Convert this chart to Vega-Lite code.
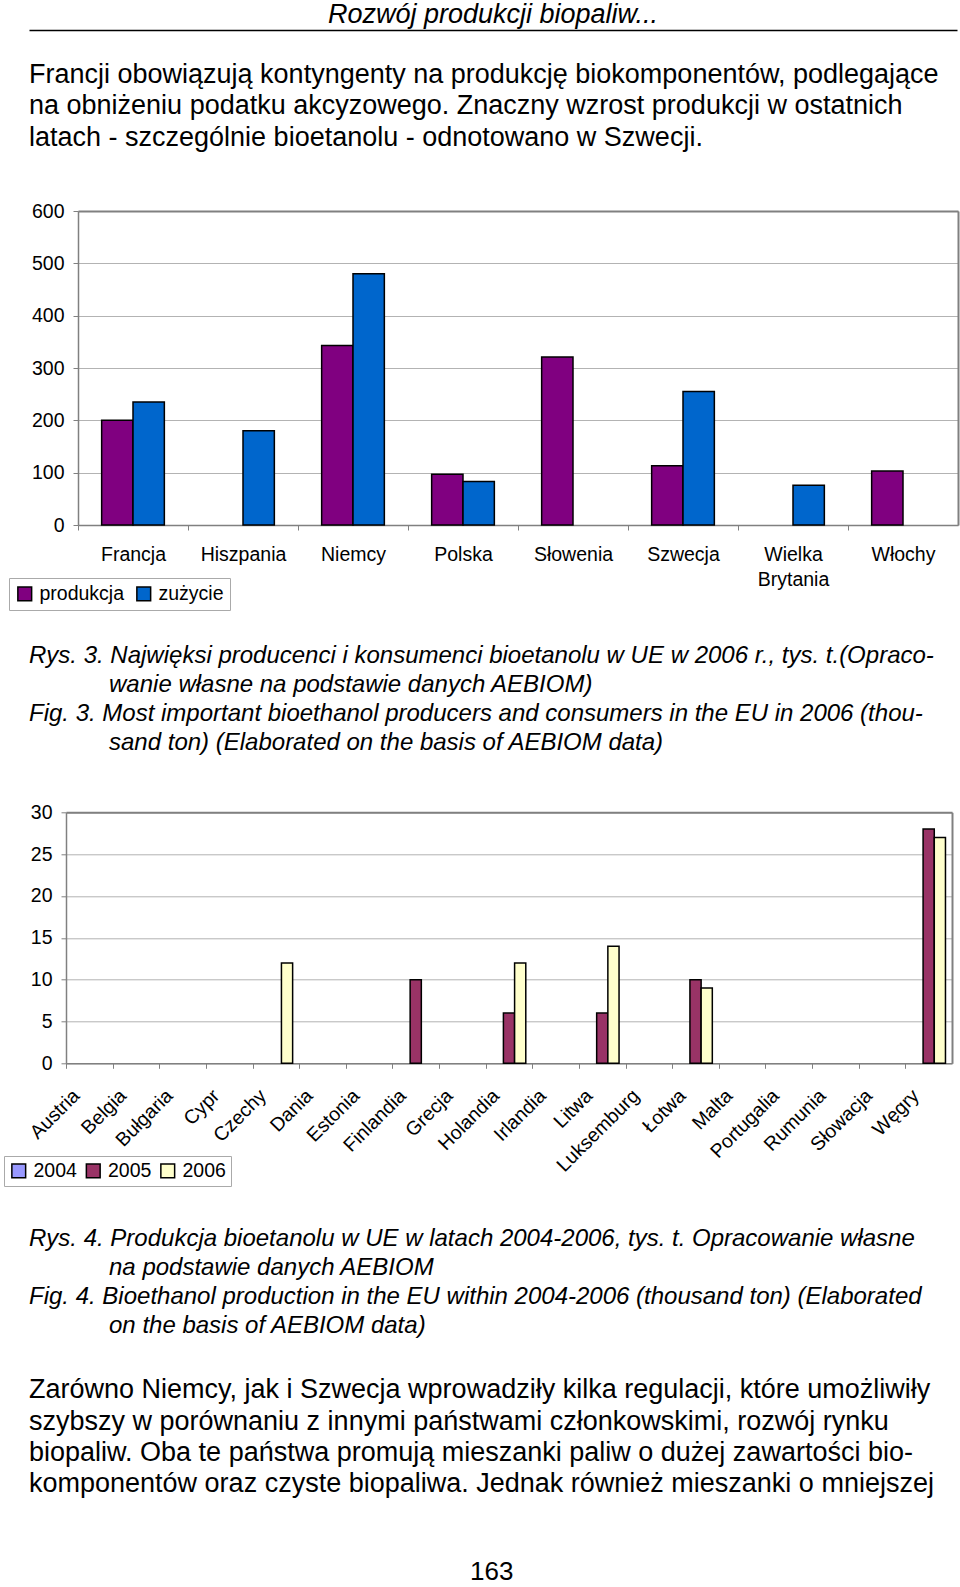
{
  "$schema": "https://vega.github.io/schema/vega-lite/v6.json",
  "background": "white",
  "padding": {"left": 3, "top": 0, "right": 3, "bottom": 4},
  "config": {
    "font": "Liberation Sans",
    "view": {"stroke": null},
    "axis": {"labelFont": "Liberation Sans", "labelFontSize": 19.5, "labelColor": "black", "domainColor": "#808080", "tickColor": "#808080", "gridColor": "#b3b3b3", "gridWidth": 1},
    "legend": {"labelFont": "Liberation Sans", "labelFontSize": 19.5, "labelColor": "black"},
    "title": {"font": "Liberation Sans", "color": "black", "fontWeight": "normal", "subtitleFont": "Liberation Sans", "subtitleColor": "black"}
  },
  "title": {"text": "163", "orient": "bottom", "anchor": "middle", "fontSize": 26, "fontWeight": "normal", "color": "black", "offset": 62, "dx": -7},
  "datasets": {
    "header": [{"header": "Rozwój produkcji biopaliw..."}],
    "fig3": [
      {"country": "Francja", "series": "produkcja", "value": 200},
      {"country": "Francja", "series": "zużycie", "value": 235},
      {"country": "Hiszpania", "series": "zużycie", "value": 180},
      {"country": "Niemcy", "series": "produkcja", "value": 343},
      {"country": "Niemcy", "series": "zużycie", "value": 480},
      {"country": "Polska", "series": "produkcja", "value": 97},
      {"country": "Polska", "series": "zużycie", "value": 83},
      {"country": "Słowenia", "series": "produkcja", "value": 321},
      {"country": "Szwecja", "series": "produkcja", "value": 113},
      {"country": "Szwecja", "series": "zużycie", "value": 255},
      {"country": "Wielka Brytania", "series": "zużycie", "value": 76},
      {"country": "Włochy", "series": "produkcja", "value": 103}
    ],
    "fig4": [
      {"country": "Czechy", "year": "2006", "value": 12},
      {"country": "Finlandia", "year": "2005", "value": 10},
      {"country": "Holandia", "year": "2005", "value": 6},
      {"country": "Holandia", "year": "2006", "value": 12},
      {"country": "Litwa", "year": "2005", "value": 6},
      {"country": "Litwa", "year": "2006", "value": 14},
      {"country": "Łotwa", "year": "2005", "value": 10},
      {"country": "Łotwa", "year": "2006", "value": 9},
      {"country": "Węgry", "year": "2005", "value": 28},
      {"country": "Węgry", "year": "2006", "value": 27}
    ]
  },
  "spacing": 181,
  "bounds": "flush",
  "vconcat": [
    {
      "width": 892,
      "height": 30,
      "data": {"name": "header"},
      "mark": {"type": "text", "fontSize": 27, "fontStyle": "italic", "align": "center", "baseline": "middle", "color": "black"},
      "encoding": {
        "text": {"field": "header"},
        "x": {"field": "header", "type": "nominal", "scale": {"rangeMin": -37, "rangeMax": 891}, "axis": {"orient": "bottom", "domain": true, "domainColor": "black", "domainWidth": 1.5, "ticks": false, "labels": false, "grid": false, "title": null}}
      },
      "title": {
        "text": [
          "Francji obowiązują kontyngenty na produkcję biokomponentów, podlegające",
          "na obniżeniu podatku akcyzowego. Znaczny wzrost produkcji w ostatnich",
          "latach - szczególnie bioetanolu - odnotowano w Szwecji."
        ],
        "orient": "bottom", "anchor": "start", "frame": "group", "dx": -37, "offset": 32,
        "fontSize": 27, "lineHeight": 31.4, "fontStyle": "normal"
      }
    },
    {
      "spacing": 287.3,
      "bounds": "flush",
      "resolve": {"scale": {"color": "independent", "xOffset": "independent", "x": "independent", "y": "independent"}, "legend": {"color": "independent"}},
      "vconcat": [
        {
          "width": 892,
          "height": 314,
          "data": {"name": "fig3"},
          "layer": [
            {
              "mark": {"type": "bar", "stroke": "black", "strokeWidth": 1.5},
              "encoding": {
                "x": {"field": "country", "type": "nominal",
                  "scale": {"domain": ["Francja", "Hiszpania", "Niemcy", "Polska", "Słowenia", "Szwecja", "Wielka Brytania", "Włochy"], "rangeMin": 12, "paddingInner": 0.43, "paddingOuter": 0.215},
                  "axis": {"orient": "bottom", "title": null, "labelAngle": 0, "domainWidth": 1.5, "tickSize": 5, "bandPosition": 0.5, "tickOffset": -55, "labelOffset": 55, "labelPadding": 15, "labelLineHeight": 25, "grid": false,
                    "labelExpr": "datum.value == 'Wielka Brytania' ? ['Wielka', 'Brytania'] : datum.value"}},
                "xOffset": {"field": "series", "type": "nominal", "scale": {"domain": ["produkcja", "zużycie"]}},
                "y": {"field": "value", "type": "quantitative", "scale": {"domain": [0, 600], "nice": false},
                  "axis": {"orient": "left", "title": null, "offset": -12, "values": [0, 100, 200, 300, 400, 500, 600], "domainWidth": 1.5, "tickSize": 5, "labelPadding": 9, "grid": true}},
                "color": {"field": "series", "type": "nominal",
                  "scale": {"domain": ["produkcja", "zużycie"], "range": ["#800080", "#0066cc"]},
                  "legend": {"orient": "none", "legendX": -57, "legendY": 367, "direction": "horizontal", "title": null, "symbolType": "square", "symbolSize": 190, "symbolStrokeColor": "black", "symbolStrokeWidth": 1.5, "strokeColor": "#aaaaaa", "fillColor": "white", "padding": 6, "labelOffset": 5, "columnPadding": 8}}
              }
            },
            {
              "mark": {"type": "point", "opacity": 0},
              "encoding": {
                "x": {"field": "country", "type": "nominal", "axis": {"orient": "top", "title": null, "labels": false, "ticks": false, "grid": false, "domain": true, "domainWidth": 2}},
                "y": {"field": "value", "type": "quantitative", "axis": {"orient": "right", "title": null, "labels": false, "ticks": false, "grid": false, "domain": true, "domainWidth": 2}}
              }
            }
          ],
          "resolve": {"axis": {"x": "independent", "y": "independent"}},
          "title": {
            "text": [
              "Rys. 3. Najwięksi producenci i konsumenci bioetanolu w UE w 2006 r., tys. t.(Opraco-",
              "\u200b\u00a0\u00a0\u00a0\u00a0\u00a0\u00a0\u00a0\u00a0\u00a0\u00a0\u00a0\u00a0wanie własne na podstawie danych AEBIOM)",
              "Fig. 3. Most important bioethanol producers and consumers in the EU in 2006 (thou-",
              "\u200b\u00a0\u00a0\u00a0\u00a0\u00a0\u00a0\u00a0\u00a0\u00a0\u00a0\u00a0\u00a0sand ton) (Elaborated on the basis of AEBIOM data)"
            ],
            "orient": "bottom", "anchor": "start", "frame": "group", "dx": -37, "offset": 33,
            "fontSize": 24, "lineHeight": 29, "fontStyle": "italic"
          }
        },
        {
          "width": 886,
          "height": 251,
          "data": {"name": "fig4"},
          "layer": [
            {
              "mark": {"type": "bar", "stroke": "black", "strokeWidth": 1.5},
              "encoding": {
                "x": {"field": "country", "type": "nominal",
                  "scale": {"domain": ["Austria", "Belgia", "Bułgaria", "Cypr", "Czechy", "Dania", "Estonia", "Finlandia", "Grecja", "Holandia", "Irlandia", "Litwa", "Luksemburg", "Łotwa", "Malta", "Portugalia", "Rumunia", "Słowacja", "Węgry"], "paddingInner": 0.28, "paddingOuter": 0.14},
                  "axis": {"orient": "bottom", "title": null, "labelAngle": -45, "labelAlign": "right", "labelBaseline": "middle", "domainWidth": 1.5, "tickSize": 5, "bandPosition": 0.5, "tickOffset": -23.3, "labelOffset": 10, "labelPadding": 24, "grid": false}},
                "xOffset": {"field": "year", "type": "nominal", "scale": {"domain": ["2004", "2005", "2006"]}},
                "y": {"field": "value", "type": "quantitative", "scale": {"domain": [0, 30], "nice": false},
                  "axis": {"orient": "left", "title": null, "values": [0, 5, 10, 15, 20, 25, 30], "domainWidth": 1.5, "tickSize": 5, "labelPadding": 9, "grid": true}},
                "color": {"field": "year", "type": "nominal",
                  "scale": {"domain": ["2004", "2005", "2006"], "range": ["#9999ff", "#993366", "#ffffcc"]},
                  "legend": {"orient": "none", "legendX": -62, "legendY": 343.7, "direction": "horizontal", "title": null, "symbolType": "square", "symbolSize": 190, "symbolStrokeColor": "black", "symbolStrokeWidth": 1.5, "strokeColor": "#aaaaaa", "fillColor": "white", "padding": 5, "labelOffset": 5, "columnPadding": 5.5}}
              }
            },
            {
              "mark": {"type": "point", "opacity": 0},
              "encoding": {
                "x": {"field": "country", "type": "nominal", "axis": {"orient": "top", "title": null, "labels": false, "ticks": false, "grid": false, "domain": true, "domainWidth": 2}},
                "y": {"field": "value", "type": "quantitative", "axis": {"orient": "right", "title": null, "labels": false, "ticks": false, "grid": false, "domain": true, "domainWidth": 2}}
              }
            }
          ],
          "resolve": {"axis": {"x": "independent", "y": "independent"}},
          "title": {
            "text": [
              "Rys. 4. Produkcja bioetanolu w UE w latach 2004-2006, tys. t. Opracowanie własne",
              "\u200b\u00a0\u00a0\u00a0\u00a0\u00a0\u00a0\u00a0\u00a0\u00a0\u00a0\u00a0\u00a0na podstawie danych AEBIOM",
              "Fig. 4. Bioethanol production in the EU within 2004-2006 (thousand ton) (Elaborated",
              "\u200b\u00a0\u00a0\u00a0\u00a0\u00a0\u00a0\u00a0\u00a0\u00a0\u00a0\u00a0\u00a0on the basis of AEBIOM data)"
            ],
            "subtitle": [
              "Zarówno Niemcy, jak i Szwecja wprowadziły kilka regulacji, które umożliwiły",
              "szybszy w porównaniu z innymi państwami członkowskimi, rozwój rynku",
              "biopaliw. Oba te państwa promują mieszanki paliw o dużej zawartości bio-",
              "komponentów oraz czyste biopaliwa. Jednak również mieszanki o mniejszej"
            ],
            "orient": "bottom", "anchor": "start", "frame": "group", "dx": -37, "offset": 40,
            "fontSize": 24, "lineHeight": 29, "fontStyle": "italic",
            "subtitleFontSize": 27, "subtitleLineHeight": 31.4, "subtitleFontStyle": "normal", "subtitlePadding": 39.7
          }
        }
      ]
    }
  ]
}
